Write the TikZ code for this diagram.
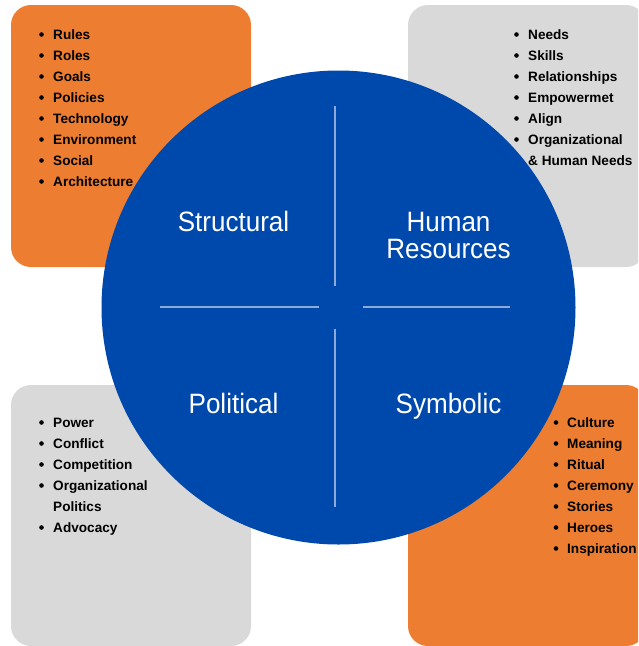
\documentclass[tikz,border=0pt]{standalone}
\usepackage{fontspec}
\setmainfont{Liberation Sans}
\usetikzlibrary{positioning}

\definecolor{frameorange}{HTML}{ED7D31}
\definecolor{framegrey}{HTML}{D9D9D9}
\definecolor{frameblue}{HTML}{0049AC}
\definecolor{frameline}{HTML}{8FA8DA}

\begin{document}
\begin{tikzpicture}[x=1pt, y=-1pt,
	box/.style={rounded corners=20pt},
	frame/.style={white, inner sep=0pt, align=center, xscale=0.93, font=\fontsize{28}{27}\selectfont},
	item/.style={anchor=base west, inner sep=0pt, font=\fontsize{13.6}{16}\selectfont\bfseries},
	dot/.style={circle, fill=black, inner sep=0pt, minimum size=4.6pt}]
	\useasboundingbox (0,0) rectangle (638,646);
	\clip (0,0) rectangle (638,646);
	
	% Corner boxes
	\fill [frameorange, box] (11,5) rectangle (251,267);
	\fill [framegrey, box] (408,5) rectangle (646,267);
	\fill [framegrey, box] (11,385) rectangle (251,646);
	\fill [frameorange, box] (408,385) rectangle (646,646);
	
	% Circle and dividers
	\node (core) at (338.5,307.5) [circle, fill=frameblue, inner sep=0pt, minimum size=474pt] {};
	\draw [frameline, line width=1.5pt] (335,106) -- (335,286);
	\draw [frameline, line width=1.5pt] (335,329) -- (335,507);
	\draw [frameline, line width=1.5pt] (160,307) -- (319,307);
	\draw [frameline, line width=1.5pt] (363,307) -- (510,307);
	
	\node (structural) at (233.5,231) [frame, anchor=base] {Structural};
	\node (human) at (448.5,258) [frame, anchor=base] {Human\\Resources};
	\node (political) at (233.5,413) [frame, anchor=base] {Political};
	\node (symbolic) at (448.5,413) [frame, anchor=base] {Symbolic};
	
	% top left
	\foreach \t [count=\i from 0] in {Rules,Roles,Goals,Policies,Technology,Environment,Social,Architecture} {
		\node (tl\i) at (53,39.5+21*\i) [item] {\t};
		\node (tldot\i) at (41.5,34.5+21*\i) [dot] {};
	}
	% top right
	\foreach \b/\t [count=\i from 0] in {1/Needs,1/Skills,1/Relationships,1/Empowermet,1/Align,1/Organizational,0/\& Human Needs} {
		\node (tr\i) at (528,39.5+21*\i) [item] {\t};
		\ifnum\b=1
			\node (trdot\i) at (516.5,34.5+21*\i) [dot] {};
		\fi
	}
	% bottom left
	\foreach \b/\t [count=\i from 0] in {1/Power,1/Conflict,1/Competition,1/Organizational,0/Politics,1/Advocacy} {
		\node (bl\i) at (53,427.5+21*\i) [item] {\t};
		\ifnum\b=1
			\node (bldot\i) at (41.5,422.5+21*\i) [dot] {};
		\fi
	}
	% bottom right
	\foreach \t [count=\i from 0] in {Culture,Meaning,Ritual,Ceremony,Stories,Heroes,Inspiration} {
		\node (br\i) at (567,427.5+21*\i) [item] {\t};
		\node (brdot\i) at (556,422.5+21*\i) [dot] {};
	}
\end{tikzpicture}
\end{document}
